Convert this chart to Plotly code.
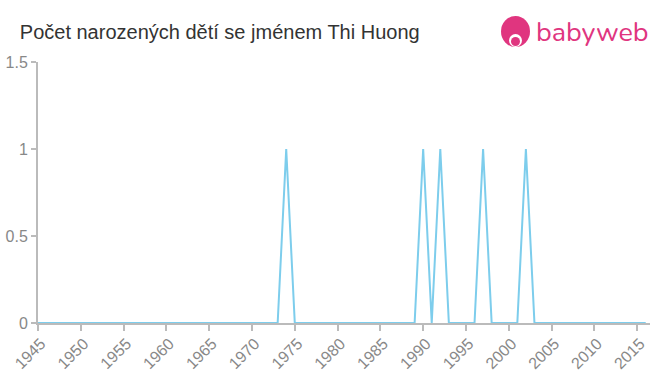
import plotly.graph_objects as go

years = list(range(1945, 2017))
spike_years = [1974, 1990, 1992, 1997, 2002]
spike_counts = [1, 1, 1, 1, 1]
counts = [spike_counts[spike_years.index(y)] if y in spike_years else 0 for y in years]

x_ticks = list(range(1945, 2016, 5))
y_ticks = [0, 0.5, 1, 1.5]
y_labels = ["0", "0.5", "1", "1.5"]

fig = go.Figure()
fig.add_trace(go.Scatter(x=years, y=counts, mode="lines",
                         line=dict(color="#7dcdec", width=2), hoverinfo="x+y"))

fig.update_layout(
    width=660, height=375,
    margin=dict(l=38, r=10, t=62, b=52, autoexpand=False),
    paper_bgcolor="white", plot_bgcolor="white",
    showlegend=False,
    font=dict(family="Arial", color="#888"),
    title=dict(text="Počet narozených dětí se jménem Thi Huong", x=0.03, xanchor="left",
               y=0.915, yanchor="middle",
               font=dict(size=20, color="#333", family="Arial")),
    xaxis=dict(range=[1945, 2016.5], tickvals=x_ticks, tickangle=-45, automargin=False,
               showgrid=False, zeroline=False, showline=True, linecolor="#bbb", linewidth=2,
               ticks="outside", tickcolor="#bbb", ticklen=6, tickwidth=2,
               ticklabelstandoff=-3, ticklabelshift=3,
               tickfont=dict(size=16, color="#888", family="Arial")),
    yaxis=dict(range=[0, 1.5], tickvals=y_ticks, ticktext=y_labels, automargin=False,
               showgrid=False, zeroline=False, showline=True, linecolor="#bbb", linewidth=2,
               ticks="outside", tickcolor="#bbb", ticklen=5, tickwidth=2,
               tickfont=dict(size=16, color="#888", family="Arial")),
)

# babyweb logo
fig.add_shape(type="circle", xref="paper", yref="paper",
              x0=(501-38)/612, x1=(530-38)/612, y0=(375-47-52)/261, y1=(375-16-52)/261,
              fillcolor="#e0357f", line=dict(width=0))
fig.add_shape(type="circle", xref="paper", yref="paper",
              x0=(509-38)/612, x1=(522-38)/612, y0=(375-47-52)/261, y1=(375-34-52)/261,
              fillcolor="white", line=dict(width=0))
fig.add_shape(type="circle", xref="paper", yref="paper",
              x0=(511-38)/612, x1=(520-38)/612, y0=(375-46-52)/261, y1=(375-37-52)/261,
              fillcolor="#e0357f", line=dict(width=0))
fig.add_annotation(text="babyweb", xref="paper", yref="paper",
                   x=(534-38)/612, y=(375-33-52)/261, xanchor="left", yanchor="middle",
                   showarrow=False, font=dict(size=27, color="#e0357f",
                                              family="Nunito, Lato, sans-serif"))

fig.write_html("out.html")
